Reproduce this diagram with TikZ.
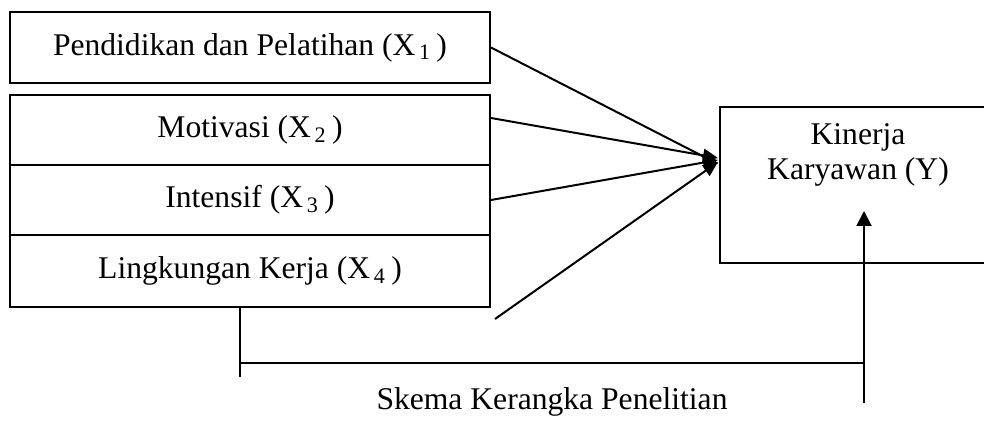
\documentclass[tikz,border=0pt]{standalone}
\usepackage{fontspec}
\setmainfont{Liberation Serif}
\usetikzlibrary{arrows.meta}
\begin{document}
\begin{tikzpicture}[x=0.5pt,y=-0.5pt,
  txt/.style={font=\fontsize{15.8}{17.5}\selectfont},
  box/.style={draw, line width=1pt, minimum width=240pt, minimum height=35pt, inner sep=0pt, txt},
  conn/.style={line width=1pt},
  tip/.style={-{Triangle[length=7.5pt,width=6.5pt]}},
  tipb/.style={-{Triangle[length=7.5pt,width=7.5pt]}}]
\clip (0,0) rectangle (984,426);
\fill[white] (0,0) rectangle (984,426);
\node[box, minimum height=35.5pt] (p) at (250,47.5) {Pendidikan dan Pelatihan (X\textsubscript{\,1}\,)};
\node[box] (m) at (250,130) {Motivasi (X\textsubscript{\,2}\,)};
\node[box] (i) at (250,200) {Intensif (X\textsubscript{\,3}\,)};
\node[box, minimum height=36pt] (l) at (250,271) {Lingkungan Kerja (X\textsubscript{\,4}\,)};
\node[box, minimum width=138pt, minimum height=78pt] (y) at (858,185) {};
\node[txt, align=center] (yt) at (858,155) {Kinerja\\Karyawan (Y)};
\coordinate (hub) at (718,160);
\coordinate (f) at (495,319);
\draw[conn,tip] (p.east) -- ([yshift=-2pt]hub);
\draw[conn,tip] ([yshift=6pt]m.east) -- ([yshift=1pt]hub);
\draw[conn,tip] (i.east) -- (hub);
\draw[conn,tip] (f) -- ([yshift=-1pt]hub);
\coordinate (bl) at (240,377);
\coordinate (hl) at (240,363);
\coordinate (hr) at (864,363);
\coordinate (rb) at (864,403);
\coordinate (rt) at (864,211);
\draw[conn] ([xshift=-5pt]l.south) -- (bl);
\draw[conn] (hl) -- (hr);
\draw[conn,tipb] (rb) -- (rt);
\node[txt, anchor=base] (cap) at (552,410) {Skema Kerangka Penelitian};
\end{tikzpicture}
\end{document}
